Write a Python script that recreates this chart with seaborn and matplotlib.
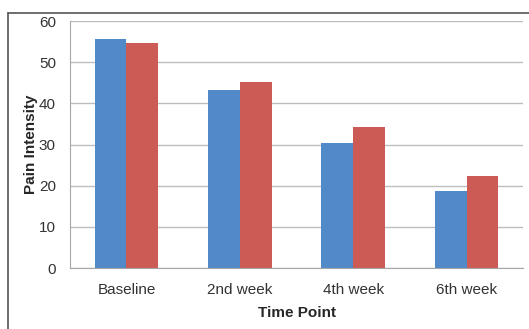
import pandas as pd
import matplotlib.pyplot as plt
import seaborn as sns
from matplotlib.lines import Line2D

time_points = ['Baseline', '2nd week', '4th week', '6th week']
group_a = [55.7, 43.3, 30.5, 18.8]
group_b = [54.6, 45.3, 34.3, 22.3]

data = pd.DataFrame({
    'Time Point': time_points * 2,
    'Pain Intensity': group_a + group_b,
    'Group': ['Group A'] * 4 + ['Group B'] * 4,
})

sns.set_style('white')
plt.rcParams['font.family'] = ['Liberation Sans', 'DejaVu Sans']

fig = plt.figure(figsize=(5.29, 3.29), dpi=100)
ax = fig.add_axes([0.132, 0.185, 0.857, 0.751])

sns.barplot(data=data, x='Time Point', y='Pain Intensity', hue='Group',
            palette=['#5289C9', '#CC5A55'], width=0.56, gap=0,
            saturation=1, linewidth=0, ax=ax, legend=False)

ax.set_ylim(0, 60)
ax.set_yticks(range(0, 61, 10))
ax.yaxis.grid(True, color='#BDBDBD', linewidth=1)
ax.set_axisbelow(True)
for side in ['top', 'right']:
    ax.spines[side].set_visible(False)
ax.spines['left'].set_color('#A6A6A6')
ax.spines['bottom'].set_color('#A6A6A6')
ax.tick_params(axis='y', length=4, color='#A6A6A6', labelsize=11,
               labelcolor='#333333', pad=6)
ax.tick_params(axis='x', length=0, labelsize=11, labelcolor='#333333', pad=11)
ax.set_xlabel('Time Point', fontsize=11, fontweight='bold', labelpad=6)
ax.set_ylabel('Pain Intensity', fontsize=11, fontweight='bold', labelpad=1)

# outer chart frame (left and top edges visible)
fig.add_artist(Line2D([8 / 529, 8 / 529], [0, 1 - 13 / 329],
                      transform=fig.transFigure, color='#555555', lw=1.2))
fig.add_artist(Line2D([8 / 529, 1], [1 - 13 / 329, 1 - 13 / 329],
                      transform=fig.transFigure, color='#555555', lw=1.2))

fig.savefig('out.png', dpi=100)
